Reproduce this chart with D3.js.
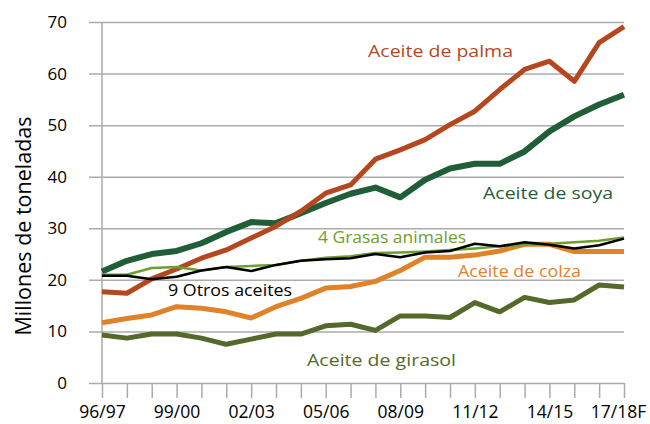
<!DOCTYPE html>
<html>
<head>
<meta charset="utf-8">
<script src="https://cdnjs.cloudflare.com/ajax/libs/d3/7.8.5/d3.min.js"></script>
<style>
    body { margin: 0; background: #fff; }
    svg { display: block; font-family: "Open Sans", "Noto Sans", sans-serif; }
</style>
</head>
<body>
<svg id="chart" width="650" height="424"></svg>
<script>
"use strict";

// campañas (22 puntos)
var seasons = ["96/97", "97/98", "98/99", "99/00", "00/01", "01/02", "02/03", "03/04", "04/05", "05/06",
    "06/07", "07/08", "08/09", "09/10", "10/11", "11/12", "12/13", "13/14", "14/15", "15/16", "16/17", "17/18F"];
var tickLabels = ["96/97", "99/00", "02/03", "05/06", "08/09", "11/12", "14/15", "17/18F"];
var yTicks = [0, 10, 20, 30, 40, 50, 60, 70];

var palma = [17.7, 17.4, 20.2, 22.1, 24.2, 25.8, 28.1, 30.4, 33.3, 36.8, 38.4,
    43.4, 45.2, 47.2, 50.1, 52.7, 56.9, 60.8, 62.4, 58.5, 66.0, 69.1];
var soya = [21.6, 23.7, 25.0, 25.6, 27.1, 29.3, 31.2, 31.0, 32.9, 34.9, 36.7,
    37.9, 36.0, 39.4, 41.6, 42.5, 42.5, 44.9, 48.8, 51.7, 54.0, 55.9];
var grasas = [21.0, 21.0, 22.3, 22.5, 21.8, 22.5, 22.7, 22.9, 23.7, 24.3, 24.6,
    25.2, 25.3, 25.5, 25.8, 26.1, 26.5, 26.8, 27.0, 27.3, 27.6, 28.2];
var otros = [20.8, 20.8, 20.1, 20.6, 21.8, 22.5, 21.7, 22.9, 23.7, 24.0, 24.2,
    25.0, 24.4, 25.3, 25.6, 27.0, 26.5, 27.3, 26.8, 26.1, 26.7, 28.0];
var colza = [11.7, 12.5, 13.2, 14.8, 14.5, 13.8, 12.6, 14.8, 16.4, 18.4, 18.7,
    19.7, 21.8, 24.4, 24.4, 24.8, 25.6, 26.9, 26.9, 25.5, 25.5, 25.5];
var girasol = [9.3, 8.7, 9.5, 9.5, 8.7, 7.5, 8.5, 9.5, 9.5, 11.1, 11.4,
    10.2, 13.0, 13.0, 12.7, 15.6, 13.8, 16.6, 15.6, 16.1, 19.0, 18.6];

var series = [
    { name: "Aceite de colza", values: colza, color: "#E0822A", width: 5,
        label: { x: 458, y: 277, len: 123 } },
    { name: "Aceite de girasol", values: girasol, color: "#55692A", width: 5,
        label: { x: 307, y: 366, len: 149 } },
    { name: "Aceite de soya", values: soya, color: "#1F5E37", width: 6,
        label: { x: 483, y: 199, len: 130 } },
    { name: "Aceite de palma", values: palma, color: "#B5471F", width: 5,
        label: { x: 368, y: 57, len: 145 } },
    { name: "4 Grasas animales", values: grasas, color: "#6E9E2E", width: 2.5,
        label: { x: 318, y: 243, len: 148 } },
    { name: "9 Otros aceites", values: otros, color: "#000000", width: 2.5,
        label: { x: 168, y: 296, len: 124 } }
];

var svg = d3.select("#chart");

var x = d3.scalePoint()
    .domain(seasons)
    .range([102, 624]);

var y = d3.scaleLinear()
    .domain([0, 70])
    .range([383, 22]);

// rejilla horizontal
svg.append("g")
    .attr("class", "grid")
    .attr("transform", "translate(102,0)")
    .call(d3.axisLeft(y).tickValues(yTicks).tickSize(13).tickFormat(""))
    .call(function(g) { g.select(".domain").remove(); })
    .selectAll("line")
    .attr("x2", 624 - 102)
    .attr("x1", -13)
    .attr("stroke", "#ABABAB")
    .attr("stroke-width", 1.5);

// etiquetas eje Y
svg.append("g")
    .attr("transform", "translate(102,0)")
    .call(d3.axisLeft(y).tickValues(yTicks).tickSize(0).tickPadding(35))
    .call(function(g) { g.select(".domain").remove(); })
    .selectAll("text")
    .attr("font-family", "'Open Sans', sans-serif")
    .attr("font-size", 17)
    .attr("fill", "#000");

// eje X
var xAxis = svg.append("g")
    .attr("transform", "translate(0,383)")
    .call(d3.axisBottom(x).tickSize(15).tickPadding(8)
        .tickFormat(function(d) { return tickLabels.indexOf(d) >= 0 ? d : ""; }));
xAxis.select(".domain").remove();
xAxis.selectAll("line")
    .attr("stroke", "#ABABAB")
    .attr("stroke-width", 1.5);
xAxis.selectAll("text")
    .attr("font-family", "'Open Sans', sans-serif")
    .attr("font-size", 17.5)
    .attr("fill", "#000")
    .attr("dx", function(d) { return d === "17/18F" ? -6 : 0; });

// línea vertical del eje Y
svg.append("line")
    .attr("x1", 102).attr("x2", 102)
    .attr("y1", y(70)).attr("y2", y(0))
    .attr("stroke", "#ABABAB")
    .attr("stroke-width", 1.5);

// título eje Y
svg.append("text")
    .attr("transform", "translate(31,226) rotate(-90)")
    .attr("text-anchor", "middle")
    .attr("font-size", 21.5)
    .attr("fill", "#000")
    .text("Millones de toneladas");

var line = d3.line()
    .x(function(d, i) { return x(seasons[i]); })
    .y(function(d) { return y(d); });

svg.append("g")
    .attr("class", "lines")
    .selectAll("path")
    .data(series)
    .enter().append("path")
    .attr("d", function(d) { return line(d.values); })
    .attr("fill", "none")
    .attr("stroke", function(d) { return d.color; })
    .attr("stroke-width", function(d) { return d.width; })
    .attr("stroke-linejoin", "round");

svg.append("g")
    .attr("class", "labels")
    .selectAll("text")
    .data(series)
    .enter().append("text")
    .attr("x", function(d) { return d.label.x; })
    .attr("y", function(d) { return d.label.y; })
    .attr("font-size", 17)
    .attr("textLength", function(d) { return d.label.len; })
    .attr("lengthAdjust", "spacingAndGlyphs")
    .attr("fill", function(d) { return d.name === "9 Otros aceites" ? "#000" : d.color; })
    .text(function(d) { return d.name; });
</script>
</body>
</html>
